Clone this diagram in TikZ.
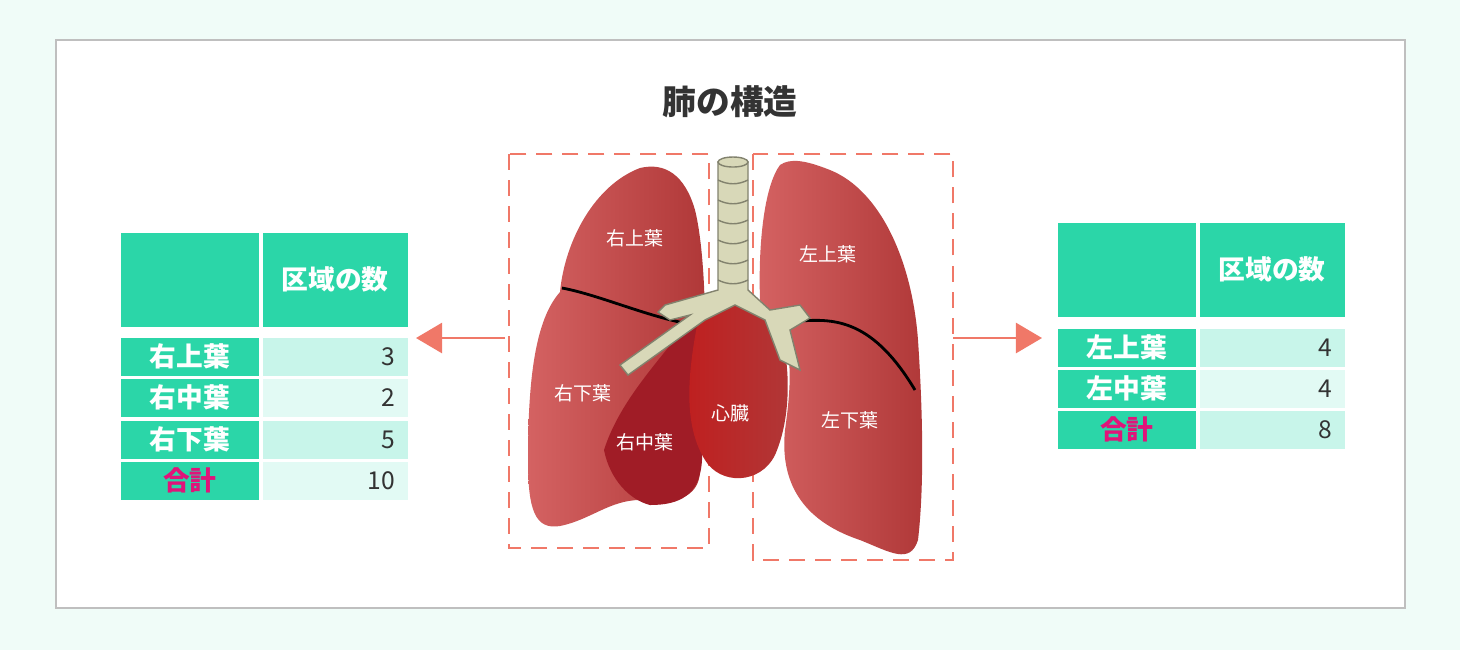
\documentclass[tikz,border=0pt]{standalone}
\usepackage{fontspec}
\setmainfont{Noto Sans CJK JP}
\usetikzlibrary{arrows.meta}
\definecolor{mint}{HTML}{F0FCF8}
\definecolor{cellgreen}{HTML}{2BD6A8}
\definecolor{cellA}{HTML}{C8F5EA}
\definecolor{cellB}{HTML}{E2FAF4}
\definecolor{salmon}{HTML}{F07868}
\definecolor{sumpink}{HTML}{E0147A}
\definecolor{lungL}{HTML}{D46262}
\definecolor{lungR}{HTML}{B03838}
\definecolor{lobedark}{HTML}{A01C26}
\definecolor{heartred}{HTML}{C01E1E}
\definecolor{pipe}{HTML}{D8D8B8}
\definecolor{ink}{HTML}{333333}
\tikzset{
  headcell/.style={fill=cellgreen, draw=none, minimum height=0.94cm, minimum width=1.38cm, inner sep=0},
  namecell/.style={fill=cellgreen, minimum width=1.38cm, minimum height=0.38cm, inner sep=0,
    text=white, font=\fontsize{7.6}{8}\selectfont\bfseries},
  valcell/.style={minimum width=1.45cm, minimum height=0.38cm, inner sep=0, align=right,
    text width=1.2cm, text=ink, font=\fontsize{7}{8}\selectfont},
  lobelabel/.style={text=white, font=\fontsize{5.4}{6}\selectfont},
  pointer/.style={salmon, line width=0.7pt, -{Triangle[length=2.6mm, width=3mm]}},
  region/.style={salmon, dashed, line width=0.6pt, dash pattern=on 1.6mm off 1mm},
}
\begin{document}
\begin{tikzpicture}[x=0.01cm, y=-0.01cm]
  % background
  \fill[mint] (0,0) rectangle (1460,650);
  \draw[fill=white, draw=black!25, line width=0.6pt] (56,40) rectangle (1405,608);
  \node[text=ink] (title) at (730,102) {\fontsize{9.6}{10}\selectfont\bfseries 肺の構造};

  % left table
  \node[headcell, anchor=north west] (lh1) at (120,232) {};
  \node[headcell, anchor=north west, minimum width=1.45cm, text=white,
    font=\fontsize{7.6}{8}\selectfont\bfseries] (lh2) at (262,232) {\raisebox{-1mm}{区域の数}};
  \foreach \y/\n/\v/\c [count=\i] in {337/右上葉/3/cellA, 378/右中葉/2/cellB, 420/右下葉/5/cellA} {
    \node[namecell, anchor=north west] (ln\i) at (120,\y) {\n};
    \node[valcell, anchor=north west, fill=\c] (lv\i) at (262,\y) {\v};
  }
  \node[namecell, anchor=north west, text=sumpink] (ln4) at (120,461) {合計};
  \node[valcell, anchor=north west, fill=cellB] (lv4) at (262,461) {10};

  % right table
  \node[headcell, anchor=north west] (rh1) at (1057,222) {};
  \node[headcell, anchor=north west, minimum width=1.45cm, text=white,
    font=\fontsize{7.6}{8}\selectfont\bfseries] (rh2) at (1199,222) {\raisebox{-1mm}{区域の数}};
  \foreach \y/\n/\v/\c [count=\i] in {328/左上葉/4/cellA, 369/左中葉/4/cellB} {
    \node[namecell, anchor=north west] (rn\i) at (1057,\y) {\n};
    \node[valcell, anchor=north west, fill=\c] (rv\i) at (1199,\y) {\v};
  }
  \node[namecell, anchor=north west, text=sumpink] (rn3) at (1057,410) {合計};
  \node[valcell, anchor=north west, fill=cellA] (rv3) at (1199,410) {8};

  % dashed regions
  \draw[region] (509,154) rectangle (709,548);
  \draw[region] (753,154) rectangle (953,560);
  \coordinate (lstart) at (505,338);
  \coordinate (lend) at (416,338);
  \coordinate (rstart) at (953,338);
  \coordinate (rend) at (1042,338);
  \draw[pointer] (lstart) -- (lend);
  \draw[pointer] (rstart) -- (rend);

  % right lung (image left)
  \shade[left color=lungL, right color=lungR]
    (640,168) .. controls (595,185) and (565,240) .. (560,292)
    .. controls (535,320) and (528,380) .. (528,460)
    .. controls (528,510) and (535,530) .. (560,526)
    .. controls (590,520) and (610,500) .. (640,500)
    .. controls (670,505) and (700,500) .. (700,470)
    -- (705,330) .. controls (705,270) and (700,230) .. (695,210)
    .. controls (685,175) and (665,162) .. (640,168) -- cycle;
  \fill[lobedark] (690,320) .. controls (660,360) and (620,400) .. (604,450)
    .. controls (610,480) and (630,500) .. (650,505)
    .. controls (680,505) and (700,495) .. (702,460) -- (705,330) -- cycle;
  \draw[line width=0.8pt] (562,288) .. controls (600,295) and (650,318) .. (695,325);

  % heart
  \shade[left color=heartred, right color=lungR]
    (700,310) .. controls (690,360) and (680,420) .. (705,460)
    .. controls (720,485) and (760,485) .. (775,455)
    .. controls (795,410) and (790,340) .. (770,305)
    .. controls (750,295) and (715,295) .. (700,310) -- cycle;

  % left lung (image right)
  \shade[left color=lungL, right color=lungR]
    (780,165) .. controls (765,185) and (758,240) .. (760,300)
    .. controls (790,330) and (795,360) .. (785,430)
    .. controls (780,480) and (800,520) .. (860,540)
    .. controls (890,552) and (910,565) .. (918,540)
    .. controls (925,480) and (922,400) .. (918,340)
    .. controls (912,260) and (880,190) .. (830,170)
    .. controls (805,160) and (790,158) .. (780,165) -- cycle;
  \draw[line width=0.8pt] (790,322) .. controls (830,318) and (870,315) .. (915,390);

  % trachea and bronchi
  \draw[pipe!60!black, fill=pipe, line width=0.4pt]
    (718,162) -- (718,290) -- (665,305) -- (658,312) -- (670,320) -- (690,315)
    -- (620,365) -- (628,375) -- (705,320) -- (735,305) -- (765,320)
    -- (780,360) -- (800,370) -- (790,330) -- (810,318) -- (800,305) -- (770,310)
    -- (748,290) -- (748,162) -- cycle;
  \draw[fill=pipe, draw=pipe!60!black] (733,162) ellipse (15 and 5);
  \foreach \y in {180,200,...,280}
    \draw[pipe!60!black, line width=0.4pt] (718,\y) .. controls (728,\y+5) and (738,\y+5) .. (748,\y);

  % lobe labels
  \node[lobelabel] (ru) at (635,238) {右上葉};
  \node[lobelabel] (rl) at (583,393) {右下葉};
  \node[lobelabel] (rm) at (645,442) {右中葉};
  \node[lobelabel] (hr) at (730,413) {心臓};
  \node[lobelabel] (lu) at (828,254) {左上葉};
  \node[lobelabel] (ll) at (850,420) {左下葉};
\end{tikzpicture}
\end{document}
